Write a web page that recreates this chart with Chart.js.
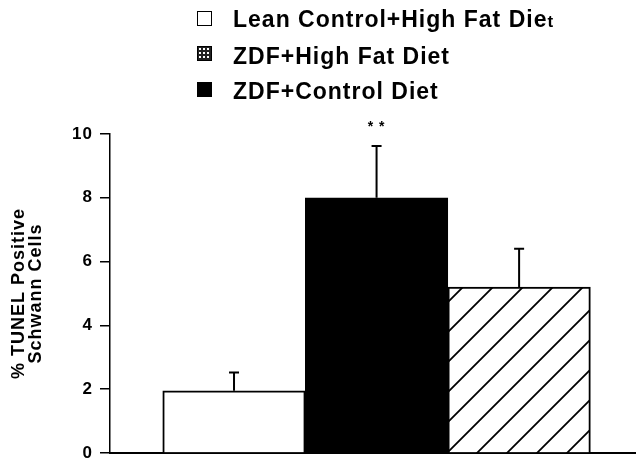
<!DOCTYPE html>
<html>
<head>
<meta charset="utf-8">
<script src="https://cdn.jsdelivr.net/npm/chart.js@4"></script>
<style>
html,body{margin:0;padding:0;background:#fff;}
#wrap{position:relative;width:636px;height:462px;overflow:hidden;}
#c{position:absolute;left:0;top:0;}
#legend{position:absolute;left:0;top:0;width:636px;height:110px;font-family:"Liberation Sans",Arial,sans-serif;font-weight:bold;font-size:23px;letter-spacing:1px;color:#000;}
.txt{position:absolute;left:233px;line-height:23px;white-space:nowrap;}
.sw{position:absolute;left:197px;width:15px;height:15px;box-sizing:border-box;}
.sw1{border:1.5px solid #000;background:#fff;}
.sw2{border:1.5px solid #000;background-color:#222;background-image:radial-gradient(circle,#fff 0.9px,transparent 1.3px);background-size:4px 4px;background-position:0 0;}
.sw3{background:#000;}
.small{font-size:17px;}
</style>
</head>
<body>
<div id="wrap">
<canvas id="c" width="636" height="462"></canvas>
<div id="legend">
  <div class="sw sw1" style="top:11px"></div><div class="txt" style="top:8px">Lean Control+High Fat Die<span class="small">t</span></div>
  <div class="sw sw2" style="top:46px"></div><div class="txt" style="top:45px">ZDF+High Fat Diet</div>
  <div class="sw sw3" style="top:82px"></div><div class="txt" style="top:80px">ZDF+Control Diet</div>
</div>
</div>
<script>
// ---- data ----
const categories = ["Lean Control+High Fat Diet", "ZDF+Control Diet", "ZDF+High Fat Diet"];
const values = [1.95, 8.0, 5.2];
const errors = [0.57, 1.62, 1.2];
const significance = ["", "* *", ""];
const yTicks = [0, 2, 4, 6, 8, 10];
const yTitle = ["% TUNEL Positive", "Schwann Cells"];

// hatched pattern for third bar
function hatch() {
  const s = 30;
  const p = document.createElement('canvas');
  p.width = s; p.height = s;
  const g = p.getContext('2d');
  g.fillStyle = '#fff'; g.fillRect(0, 0, s, s);
  g.strokeStyle = '#000'; g.lineWidth = 1.8;
  g.beginPath();
  g.moveTo(-2, s + 2); g.lineTo(s + 2, -2);
  g.moveTo(-2, 2); g.lineTo(2, -2);
  g.moveTo(s - 2, s + 2); g.lineTo(s + 2, s - 2);
  g.stroke();
  return g.createPattern(p, 'repeat');
}
const ctx = document.getElementById('c').getContext('2d');
const fills = ['#ffffff', '#000000', hatch()];

const spacing = {
  id: 'spacing',
  beforeDraw(chart) { chart.ctx.letterSpacing = '1px'; }
};

const errorBars = {
  id: 'errorBars',
  afterDatasetsDraw(chart) {
    const meta = chart.getDatasetMeta(0);
    const ys = chart.scales.y;
    const c = chart.ctx;
    c.save();
    c.strokeStyle = '#000';
    c.lineWidth = 2;
    meta.data.forEach((bar, i) => {
      const top = ys.getPixelForValue(values[i] + errors[i]);
      c.beginPath();
      c.moveTo(bar.x, bar.y);
      c.lineTo(bar.x, top);
      c.moveTo(bar.x - 5, top);
      c.lineTo(bar.x + 5, top);
      c.stroke();
      if (significance[i]) {
        c.fillStyle = '#000';
        c.font = 'bold 14px "Liberation Sans", Arial, sans-serif';
        c.textAlign = 'center';
        c.textBaseline = 'middle';
        c.fillText(significance[i], bar.x, top - 19);
      }
    });
    c.restore();
  }
};

new Chart(ctx, {
  type: 'bar',
  data: {
    labels: categories,
    datasets: [{
      label: 'TUNEL',
      data: categories.map((c, i) => ({ x: i + 1, y: values[i] })),
      backgroundColor: fills,
      borderColor: '#000',
      borderWidth: 2,
      borderSkipped: 'bottom',
      barPercentage: 1,
      categoryPercentage: 1
    }]
  },
  options: {
    responsive: false,
    animation: false,
    layout: { padding: { top: 134, right: 0, bottom: 0, left: 0 } },
    plugins: { legend: { display: false }, tooltip: { enabled: false } },
    scales: {
      x: {
        type: 'linear',
        offset: false,
        min: 0.13,
        max: 3.82,
        afterBuildTicks(s) { s.ticks = categories.map((c, i) => ({ value: i + 1 })); },
        ticks: { display: false },
        grid: { display: false, drawTicks: false, offset: false },
        border: { display: true, color: '#000', width: 2 },
        afterFit(s) { s.height = 0; }
      },
      y: {
        min: 0,
        max: 10,
        afterBuildTicks(s) { s.ticks = yTicks.map(v => ({ value: v })); },
        ticks: {
          color: '#000',
          padding: 7,
          font: { family: '"Liberation Sans", Arial, sans-serif', weight: 'bold', size: 17, lineHeight: 1 }
        },
        grid: { drawOnChartArea: false, drawTicks: true, tickLength: 10, color: '#000', lineWidth: 1.5 },
        border: { display: true, color: '#000', width: 1.5 },
        title: {
          display: true,
          text: yTitle,
          color: '#000',
          padding: { top: 10, bottom: 0 },
          font: { family: '"Liberation Sans", Arial, sans-serif', weight: 'bold', size: 18, lineHeight: 0.95 }
        },
        afterFit(s) { s.width = 110; s.paddingBottom = 9; s.paddingTop = 9; }
      }
    }
  },
  plugins: [spacing, errorBars]
});
</script>
</body>
</html>
